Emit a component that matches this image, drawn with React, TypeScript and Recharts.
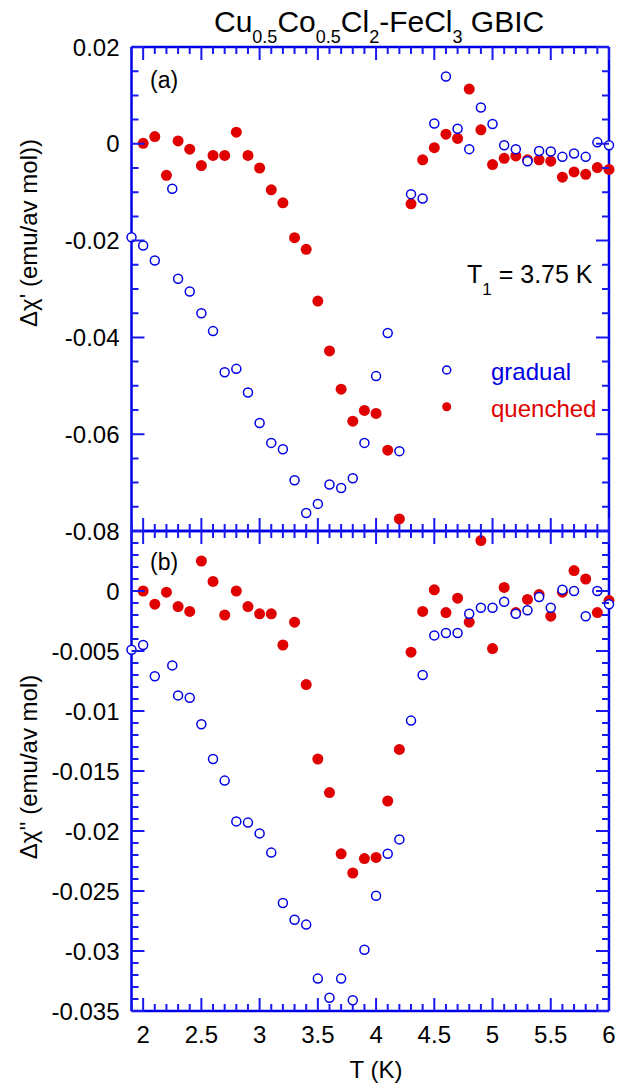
import React from 'react';
import { ScatterChart, Scatter, XAxis, YAxis, Legend } from 'recharts';

const BLUE = '#0000e6';
const RED = '#e00000';
const AXIS = '#0000e6';
const TICK = '#1a1aee';
const FONT = '"Liberation Sans", Arial, Helvetica, sans-serif';

// temperatures (K)
const gradualT = [
  1.9, 2.0, 2.1, 2.25, 2.3, 2.4, 2.5, 2.6, 2.7, 2.8, 2.9, 3.0, 3.1, 3.2, 3.3, 3.4, 3.5, 3.6, 3.7, 3.8, 3.9, 4.0, 4.1, 4.2,
  4.3, 4.4, 4.5, 4.6, 4.7, 4.8, 4.9, 5.0, 5.1, 5.2, 5.3, 5.4, 5.5, 5.6, 5.7, 5.8, 5.9, 6.0,
];
const quenchedT = [
  2.0, 2.1, 2.2, 2.3, 2.4, 2.5, 2.6, 2.7, 2.8, 2.9, 3.0, 3.1, 3.2, 3.3, 3.4, 3.5, 3.6, 3.7, 3.8, 3.9, 4.0, 4.1, 4.2,
  4.3, 4.4, 4.5, 4.6, 4.7, 4.8, 4.9, 5.0, 5.1, 5.2, 5.3, 5.4, 5.5, 5.6, 5.7, 5.8, 5.9, 6.0,
];

// panel (a): delta chi'
const gradualChi1 = [
  -0.0193, -0.021, -0.0241, -0.0093, -0.0279, -0.0305, -0.035, -0.0387, -0.0472, -0.0465, -0.0514, -0.0577, -0.0618,
  -0.0631, -0.0695, -0.0763, -0.0744, -0.0704, -0.0711, -0.0691, -0.0618, -0.048, -0.0391, -0.0635,
  -0.0104, -0.0113, 0.0042, 0.0139, 0.0031, -0.0011, 0.0075, 0.0041, -0.0003, -0.0011, -0.0036, -0.0015, -0.0016,
  -0.0027, -0.002, -0.0027, 0.0003, -0.0003,
];
const quenchedChi1 = [
  0.0001, 0.0015, -0.0065, 0.0006, -0.0011, -0.0045, -0.0024, -0.0024, 0.0024, -0.0024, -0.005, -0.0095, -0.0122,
  -0.0194, -0.0218, -0.0325, -0.0428, -0.0507, -0.0573, -0.0551, -0.0557, -0.0633, -0.0775,
  -0.0124, -0.0033, -0.0008, 0.002, 0.0011, 0.0113, 0.0029, -0.0043, -0.003, -0.0025, -0.0033, -0.0033, -0.0036,
  -0.0069, -0.0058, -0.0063, -0.0049, -0.0053,
];

// panel (b): delta chi''
const gradualChi2 = [
  -0.0049, -0.0045, -0.0071, -0.0062, -0.0087, -0.0089, -0.0111, -0.014, -0.0158, -0.0192, -0.0193, -0.0202, -0.0218,
  -0.026, -0.0274, -0.0278, -0.0323, -0.0339, -0.0323, -0.0341, -0.0299, -0.0254, -0.0219, -0.0207,
  -0.0108, -0.007, -0.0037, -0.0035, -0.0035, -0.0019, -0.0014, -0.0014, -0.0009, -0.0019, -0.0016, -0.0005, -0.0014,
  0.0001, 0.0, -0.0021, 0.0, -0.0011,
];
const quenchedChi2 = [
  0.0, -0.0011, -0.0001, -0.0013, -0.0017, 0.0025, 0.0008, -0.002, 0.0, -0.0013, -0.0019, -0.0019, -0.0045, -0.0026,
  -0.0078, -0.014, -0.0168, -0.0219, -0.0235, -0.0223, -0.0222, -0.0175, -0.0132,
  -0.0051, -0.0017, 0.0001, -0.0018, -0.0006, -0.0026, 0.0042, -0.0048, 0.0003, -0.0018, -0.0007, -0.0003, -0.0021,
  -0.0001, 0.0017, 0.001, -0.0018, -0.0008,
];

const tMajor = [2, 2.5, 3, 3.5, 4, 4.5, 5, 5.5, 6];
const tLabels = ['2', '2.5', '3', '3.5', '4', '4.5', '5', '5.5', '6'];
const chi1Major = [0.02, 0, -0.02, -0.04, -0.06, -0.08];
const chi1Labels = ['0.02', '0', '-0.02', '-0.04', '-0.06', '-0.08'];
const chi2Major = [0, -0.005, -0.01, -0.015, -0.02, -0.025, -0.03, -0.035];
const chi2Labels = ['0', '-0.005', '-0.01', '-0.015', '-0.02', '-0.025', '-0.03', '-0.035'];

const legendOrder = ['gradual', 'quenched'];

const zip = (xs: number[], ys: number[]) => xs.map((t, i) => ({ t, v: ys[i] }));

// minor tick positions (axis decoration only)
const steps = (from: number, to: number, step: number) => {
  const n = Math.round((to - from) / step);
  return Array.from({ length: n + 1 }, (_, i) => +(from + i * step).toFixed(5));
};
const tTicks = steps(1.9, 6, 0.1);
const chi1Ticks = steps(-0.08, 0.02, 0.005);
const chi2Ticks = steps(-0.035, 0.005, 0.001);

const isMajor = (majors: number[], v: number) => majors.some((m) => Math.abs(m - v) < 1e-9);

// plot frames (same numbers feed the chart margins)
const T_DOMAIN = [1.9, 6];
const FRAME_X = [131.5, 609];
const PANEL_A = { top: 47, bottom: 531, domain: [-0.08, 0.02] };
const PANEL_B = { top: 531, bottom: 1011, domain: [-0.035, 0.005] };

const lin = (d: number[], r: number[]) => (v: number) => r[0] + ((v - d[0]) / (d[1] - d[0])) * (r[1] - r[0]);

// tick labels on the data axes
function labelTick(side: 'left' | 'bottom', labels: string[] | null) {
  return (props: any) => {
    const x = Number(props.x);
    const y = Number(props.y);
    if (!labels) return <g />;
    const text = labels[props.index];
    return side === 'left' ? (
      <text x={x - 12} y={y} dy="0.36em" textAnchor="end" fontSize={24} fontFamily={FONT} fill="#000">
        {text}
      </text>
    ) : (
      <text x={x} y={y + 32} textAnchor="middle" fontSize={24} fontFamily={FONT} fill="#000">
        {text}
      </text>
    );
  };
}

// inward tick marks on all four edges of one panel frame, as one path
function FrameTicks({ panel, yTicks, yMajor }: any) {
  const sx = lin(T_DOMAIN, FRAME_X);
  const sy = lin(panel.domain, [panel.bottom, panel.top]);
  const [l, r] = FRAME_X;
  const parts: string[] = [];
  tTicks.forEach((v) => {
    const len = isMajor(tMajor, v) ? 13 : 7;
    const x = sx(v).toFixed(2);
    parts.push(`M${x},${panel.top}V${panel.top + len}`);
    parts.push(`M${x},${panel.bottom}V${panel.bottom - len}`);
  });
  yTicks.forEach((v: number) => {
    const len = isMajor(yMajor, v) ? 13 : 7;
    const y = sy(v).toFixed(2);
    parts.push(`M${l},${y}H${l + len}`);
    parts.push(`M${r},${y}H${r - len}`);
  });
  return <path d={parts.join('')} stroke={TICK} strokeWidth={2} fill="none" />;
}

const axisLine = { stroke: AXIS, strokeWidth: 2.5 };
const THIN = 0.01; // axes take no room; the margins hold the labels

const openCircle = (p: any) => <circle cx={p.cx} cy={p.cy} r={4.5} fill="#fff" stroke={BLUE} strokeWidth={1.5} />;
const filledCircle = (p: any) => <circle cx={p.cx} cy={p.cy} r={5.5} fill={RED} />;

function LegendBox() {
  return (
    <svg width={180} height={75} style={{ display: 'block' }}>
      {legendOrder.map((name, i) => (
        <g key={name}>
          {name === 'gradual' ? (
            <circle cx={10.7} cy={18 + i * 36.7} r={4} fill="#fff" stroke={BLUE} strokeWidth={1.5} />
          ) : (
            <circle cx={10.7} cy={18 + i * 36.7} r={4.5} fill={RED} />
          )}
          <text x={55} y={28 + i * 36.7} fontSize={24} fontFamily={FONT} fill={name === 'gradual' ? BLUE : RED}>
            {name}
          </text>
        </g>
      ))}
    </svg>
  );
}

function Panel({ height, margin, yDomain, yMajor, yLabels, gradual, quenched, xLabels, legend }: any) {
  const common = { interval: 0 as const, tickSize: 0, tickMargin: 0, tickLine: false };
  return (
    <ScatterChart width={618} height={height} margin={margin}>
      <XAxis dataKey="t" type="number" domain={T_DOMAIN} ticks={tMajor} height={THIN} {...common}
        axisLine={axisLine} tick={labelTick('bottom', xLabels ? tLabels : null)} />
      <XAxis xAxisId="top" orientation="top" type="number" domain={T_DOMAIN} allowDataOverflow ticks={tMajor}
        height={THIN} {...common} axisLine={axisLine} tick={false} />
      <YAxis dataKey="v" type="number" domain={yDomain} ticks={yMajor} width={THIN} {...common}
        axisLine={axisLine} tick={labelTick('left', yLabels)} />
      <YAxis yAxisId="right" orientation="right" type="number" domain={yDomain} allowDataOverflow ticks={yMajor}
        width={THIN} {...common} axisLine={axisLine} tick={false} />
      <Scatter name="quenched" data={quenched} shape={filledCircle} isAnimationActive={false} />
      <Scatter name="gradual" data={gradual} shape={openCircle} isAnimationActive={false} />
      {legend && (
        <Legend
          layout="vertical"
          align="center"
          verticalAlign="middle"
          wrapperStyle={{ left: 436, top: 352, width: 180, height: 75 }}
          content={() => <LegendBox />}
        />
      )}
    </ScatterChart>
  );
}

export default function App() {
  return (
    <div style={{ position: 'absolute', left: 0, top: 0, width: 618, height: 1084, background: '#fff' }}>
      <div style={{ position: 'absolute', left: 0, top: 0 }}>
        <Panel
          height={545}
          margin={{ top: PANEL_A.top, right: 618 - FRAME_X[1], bottom: 545 - PANEL_A.bottom, left: FRAME_X[0] }}
          yDomain={PANEL_A.domain}
          yMajor={chi1Major}
          yLabels={chi1Labels}
          gradual={zip(gradualT, gradualChi1)}
          quenched={zip(quenchedT, quenchedChi1)}
          xLabels={false}
          legend
        />
      </div>
      <div style={{ position: 'absolute', left: 0, top: 517 }}>
        <Panel
          height={567}
          margin={{ top: PANEL_B.top - 517, right: 618 - FRAME_X[1], bottom: 1084 - PANEL_B.bottom, left: FRAME_X[0] }}
          yDomain={PANEL_B.domain}
          yMajor={chi2Major}
          yLabels={chi2Labels}
          gradual={zip(gradualT, gradualChi2)}
          quenched={zip(quenchedT, quenchedChi2)}
          xLabels
          legend={false}
        />
      </div>
      <svg
        width={618}
        height={1084}
        style={{ position: 'absolute', left: 0, top: 0, pointerEvents: 'none' }}
        fontFamily={FONT}
      >
        <FrameTicks panel={PANEL_A} yTicks={chi1Ticks} yMajor={chi1Major} />
        <FrameTicks panel={PANEL_B} yTicks={chi2Ticks} yMajor={chi2Major} />
        <text x={214} y={32} fontSize={30} fill="#000">
          Cu<tspan fontSize={18} dy={11}>0.5</tspan>
          <tspan dy={-11}>Co</tspan>
          <tspan fontSize={18} dy={11}>0.5</tspan>
          <tspan dy={-11}>Cl</tspan>
          <tspan fontSize={18} dy={11}>2</tspan>
          <tspan dy={-11}>-FeCl</tspan>
          <tspan fontSize={18} dy={11}>3</tspan>
          <tspan dy={-11}> GBIC</tspan>
        </text>
        <text x={150} y={88} fontSize={23} fill="#000">(a)</text>
        <text x={150} y={570} fontSize={23} fill="#000">(b)</text>
        <text x={467} y={283} fontSize={25} fill="#000">
          T<tspan fontSize={17} dy={12}>1</tspan>
          <tspan dy={-12}> = 3.75 K</tspan>
        </text>
        <text transform="translate(37,233) rotate(-90)" textAnchor="middle" fontSize={24} fill="#000">
          Δχ' (emu/av mol))
        </text>
        <text transform="translate(37,767) rotate(-90)" textAnchor="middle" fontSize={24} fill="#000">
          Δχ'' (emu/av mol)
        </text>
        <text x={376} y={1078} textAnchor="middle" fontSize={24} fill="#000">
          T (K)
        </text>
      </svg>
    </div>
  );
}
